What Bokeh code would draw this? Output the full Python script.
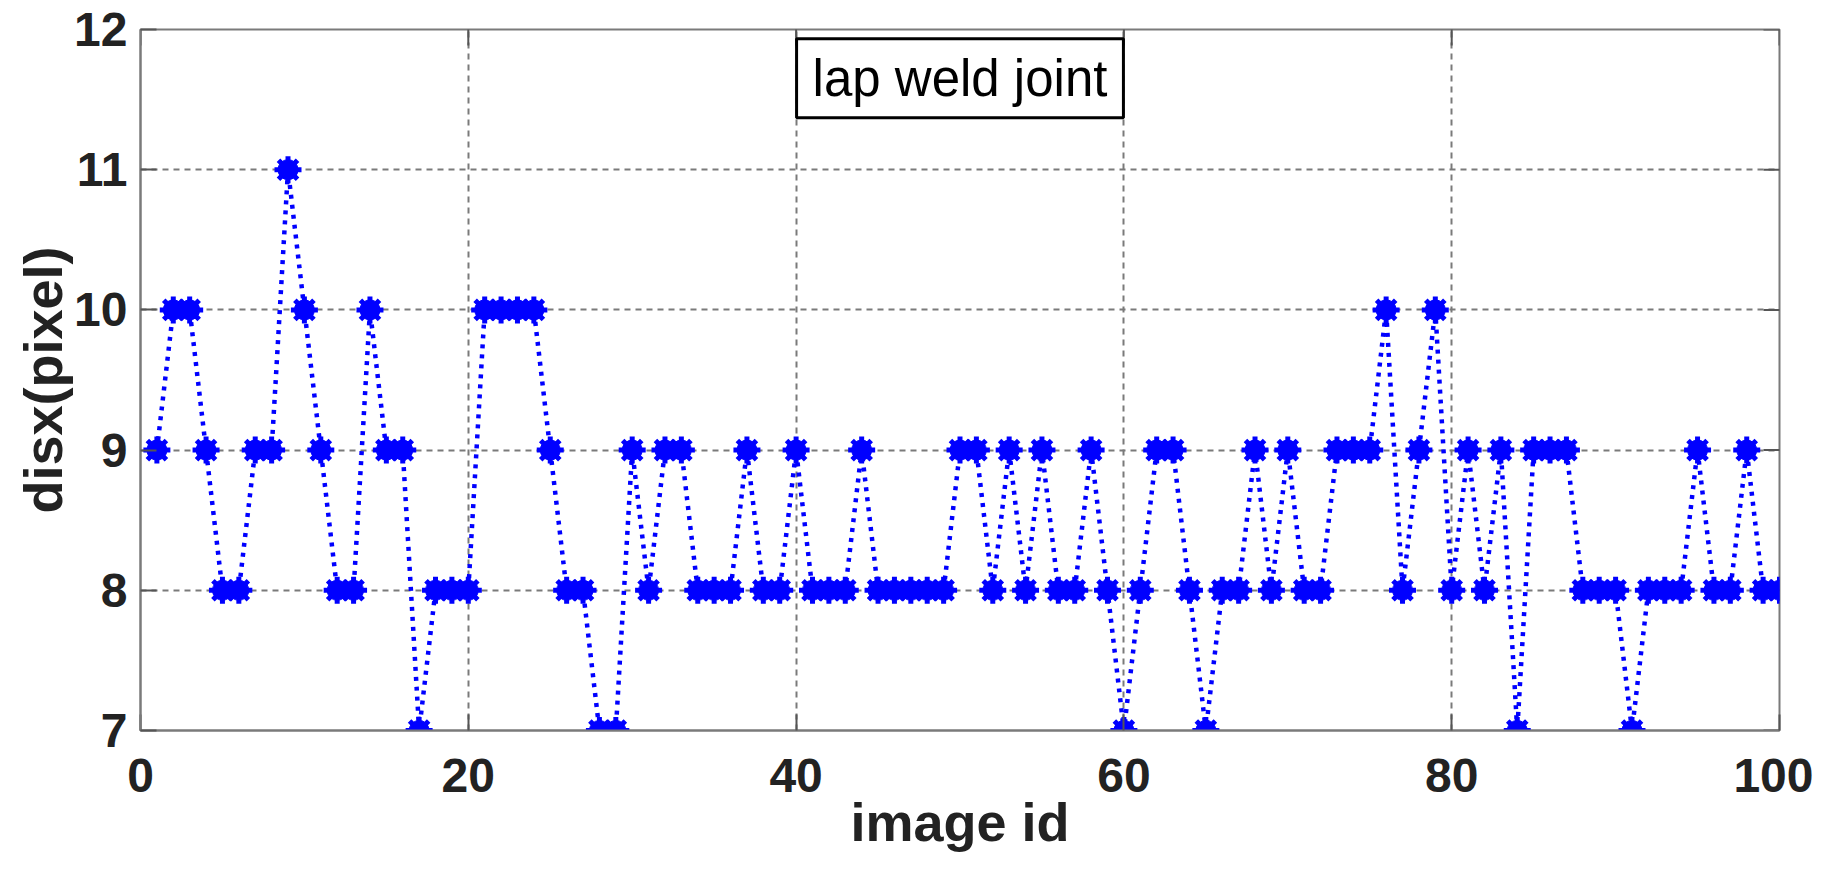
import math
from bokeh.plotting import figure
from bokeh.models import Range1d, FixedTicker, Label
from bokeh.embed import file_html
from bokeh.resources import INLINE

# ---- data ----
image_id = list(range(1, 101))
disx = [9, 10, 10, 9, 8, 8, 9, 9, 11, 10,
        9, 8, 8, 10, 9, 9, 7, 8, 8, 8,
        10, 10, 10, 10, 9, 8, 8, 7, 7, 9,
        8, 9, 9, 8, 8, 8, 9, 8, 8, 9,
        8, 8, 8, 9, 8, 8, 8, 8, 8, 9,
        9, 8, 9, 8, 9, 8, 8, 9, 8, 7,
        8, 9, 9, 8, 7, 8, 8, 9, 8, 9,
        8, 8, 9, 9, 9, 10, 8, 9, 10, 8,
        9, 8, 9, 7, 9, 9, 9, 8, 8, 8,
        7, 8, 8, 8, 9, 8, 8, 9, 8, 8]
x_ticks = [0, 20, 40, 60, 80, 100]
y_ticks = [7, 8, 9, 10, 11, 12]
x_label = "image id"
y_label = "disx(pixel)"
box_text = "lap weld joint"

FONT = "Liberation Sans"
AXIS_GREY = "#7a7a7a"
TICK_COLOR = "#555555"

p = figure(width=1813, height=854, output_backend="svg", toolbar_location=None,
           x_range=Range1d(x_ticks[0], x_ticks[-1]),
           y_range=Range1d(y_ticks[0], y_ticks[-1]),
           min_border_left=140, min_border_right=34,
           min_border_top=29, min_border_bottom=116)
p.background_fill_color = "white"
p.border_fill_color = "white"
p.outline_line_color = AXIS_GREY
p.outline_line_width = 2

for ax, ticks in ((p.xaxis[0], x_ticks), (p.yaxis[0], y_ticks)):
    ax.ticker = FixedTicker(ticks=ticks)
    ax.major_tick_in = 16
    ax.major_tick_out = 0
    ax.minor_tick_line_color = None
    ax.axis_line_color = AXIS_GREY
    ax.axis_line_width = 2
    ax.major_tick_line_color = TICK_COLOR
    ax.major_tick_line_width = 2
    ax.major_label_text_font = FONT
    ax.major_label_text_font_style = "bold"
    ax.major_label_text_color = "#222222"
    ax.major_label_text_font_size = "48px"
    ax.axis_label_text_font = FONT
    ax.axis_label_text_font_style = "bold"
    ax.axis_label_text_font_size = "54px"
    ax.axis_label_text_color = "#222222"

p.xaxis[0].axis_label = x_label
p.yaxis[0].axis_label = y_label
p.xaxis[0].major_label_standoff = 28
p.yaxis[0].major_label_standoff = 13
p.xaxis[0].axis_label_standoff = -3
p.yaxis[0].axis_label_standoff = -2

p.xgrid.ticker = FixedTicker(ticks=x_ticks)
p.ygrid.ticker = FixedTicker(ticks=y_ticks)
for g in (p.xgrid[0], p.ygrid[0]):
    g.grid_line_color = "#7a7a7a"
    g.grid_line_width = 2
    g.grid_line_dash = "6 5"

# inward ticks on the top and right edges (box on)
p.scatter(x_ticks, [y_ticks[-1]] * len(x_ticks), marker="dash", angle=math.pi / 2,
          size=32, line_color=TICK_COLOR, line_width=2)
p.scatter([x_ticks[-1]] * len(y_ticks), y_ticks, marker="dash",
          size=32, line_color=TICK_COLOR, line_width=2)

p.line(image_id, disx, line_color="#0000ff", line_width=4.5, line_dash="4 6")
p.scatter(image_id, disx, marker="circle", size=20, fill_color="#0000ff", line_color="#0000ff")
p.scatter(image_id, disx, marker="asterisk", size=27, line_color="#0000ff", line_width=5)

lbl = Label(x=50, y=11.934, text=box_text, text_align="center", text_baseline="top",
            text_font=FONT, text_font_size="51px", text_color="black",
            background_fill_color="white", border_line_color="black",
            border_line_width=3, padding=(16, 11))
p.add_layout(lbl)

open("out.html", "w").write(file_html(p, INLINE))
